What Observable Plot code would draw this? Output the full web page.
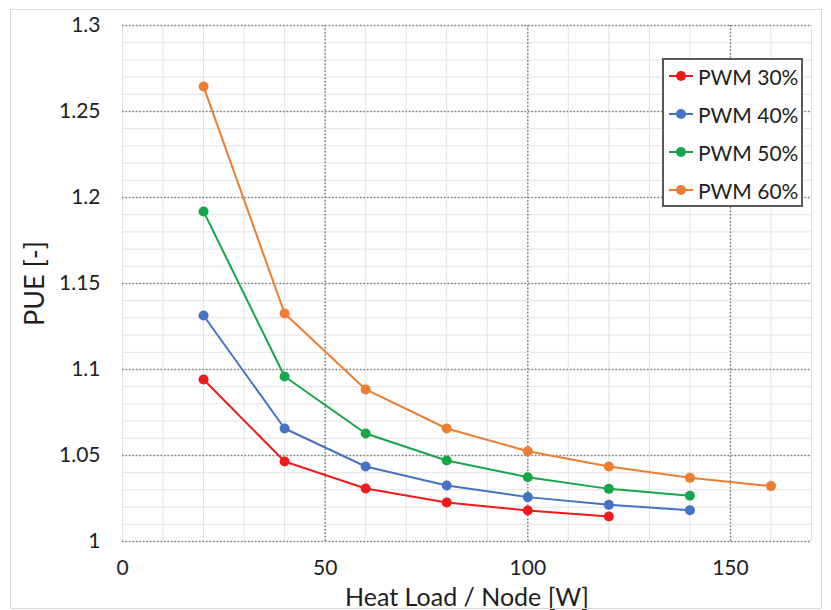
<!DOCTYPE html>
<html>
<head>
<meta charset="utf-8">
<script src="https://cdn.jsdelivr.net/npm/d3@7"></script>
<script src="https://cdn.jsdelivr.net/npm/@observablehq/plot@0.6"></script>
<style>
  html, body { margin: 0; padding: 0; background: #fff; }
  #wrap { position: relative; width: 831px; height: 610px; font-family: Lato, "Open Sans", sans-serif; }
  #border { position: absolute; left: 10px; top: 9px; width: 812px; height: 600px; border: 1px solid #d9d9d9; box-sizing: border-box; pointer-events: none; }
  #legend { position: absolute; left: 662px; top: 58px; width: 141px; height: 149px; box-sizing: border-box; border: 2px solid #595959; background: #fff; padding: 0 0 0 4px; }
  .item { display: flex; align-items: center; height: 38px; font-size: 21px; color: #1e1e1e; white-space: nowrap; }
  .item:first-child { margin-top: -3px; }
  .item svg { margin-right: 4px; flex: none; }
</style>
</head>
<body>
<div id="wrap"><div id="border"></div></div>
<script>
const heatLoad = [20, 40, 60, 80, 100, 120, 140, 160];
const seriesNames = ["PWM 30%", "PWM 40%", "PWM 50%", "PWM 60%"];
const seriesColors = ["#f01a1a", "#4472c4", "#16a64a", "#ed7d31"];
const pwm30 = [1.0942, 1.0465, 1.0308, 1.0227, 1.0180, 1.0145];
const pwm40 = [1.1314, 1.0657, 1.0436, 1.0326, 1.0258, 1.0213, 1.0182];
const pwm50 = [1.1919, 1.0959, 1.0628, 1.0471, 1.0374, 1.0306, 1.0266];
const pwm60 = [1.2645, 1.1326, 1.0884, 1.0657, 1.0525, 1.0436, 1.0370, 1.0322];
const xTicks = [0, 50, 100, 150];
const yTicks = [1, 1.05, 1.1, 1.15, 1.2, 1.25, 1.3];

const allSeries = [pwm30, pwm40, pwm50, pwm60];
const data = allSeries.flatMap((vals, i) => vals.map((v, j) => ({x: heatLoad[j], y: v, s: seriesNames[i]})));
const xMinor = d3.range(0, 171, 10);
const yMinor = d3.range(0, 31).map(i => 1 + i * 0.01);

const chart = Plot.plot({
  width: 831,
  height: 610,
  marginLeft: 122,
  marginRight: 20,
  marginTop: 25,
  marginBottom: 69,
  style: {fontFamily: 'Lato, "Open Sans", sans-serif', background: "transparent"},
  x: {domain: [0, 170]},
  y: {domain: [1, 1.3]},
  color: {domain: seriesNames, range: seriesColors},
  marks: [
    Plot.ruleX(xMinor, {stroke: "#e3e3e3", strokeWidth: 1}),
    Plot.ruleY(yMinor, {stroke: "#e3e3e3", strokeWidth: 1}),
    Plot.ruleX(xTicks.filter(d => d > 0), {stroke: "#7f7f7f", strokeWidth: 1.5, strokeDasharray: "1.5,2"}),
    Plot.ruleY(yTicks, {stroke: "#7f7f7f", strokeWidth: 1.5, strokeDasharray: "1.5,2"}),
    Plot.line(data, {x: "x", y: "y", z: "s", stroke: "s", strokeWidth: 2}),
    Plot.dot(data, {x: "x", y: "y", fill: "s", r: 5}),
    Plot.axisX(xTicks, {tickSize: 0, tickPadding: 19, fontSize: 21, fill: "#1e1e1e", label: null}),
    Plot.axisY(yTicks, {tickSize: 0, tickPadding: 22, fontSize: 21, fill: "#1e1e1e", label: null, tickFormat: d => String(+d.toFixed(2))}),
    Plot.text(["Heat Load / Node [W]"], {frameAnchor: "bottom", dy: 64, fontSize: 25, fill: "#1e1e1e"}),
    Plot.text(["PUE [-]"], {frameAnchor: "left", dx: -87, rotate: -90, textAnchor: "middle", fontSize: 27, fill: "#1e1e1e"})
  ]
});
const wrap = document.getElementById("wrap");
wrap.insertBefore(chart, wrap.firstChild);

const legend = document.createElement("div");
legend.id = "legend";
seriesNames.forEach((name, i) => {
  const item = document.createElement("div");
  item.className = "item";
  item.innerHTML = `<svg width="26" height="14"><line x1="1" y1="7" x2="25" y2="7" stroke="${seriesColors[i]}" stroke-width="2"/><circle cx="13" cy="7" r="5" fill="${seriesColors[i]}"/></svg><span>${name}</span>`;
  legend.appendChild(item);
});
wrap.appendChild(legend);
</script>
</body>
</html>
